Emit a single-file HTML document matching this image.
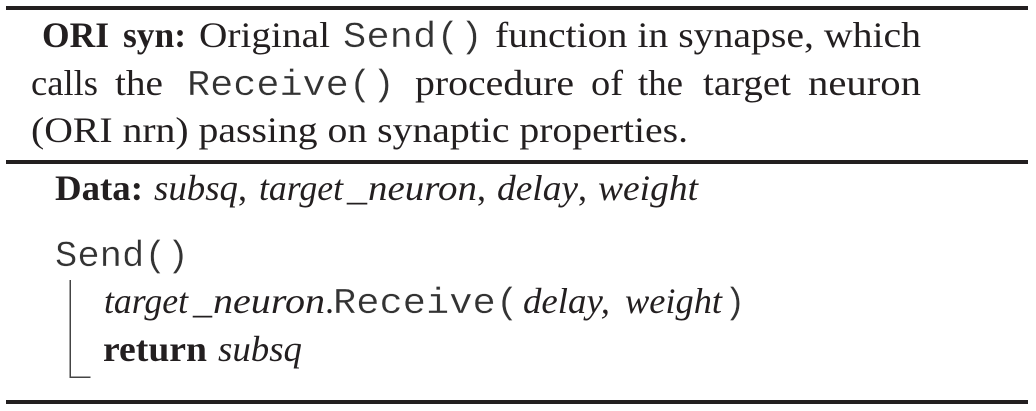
<!DOCTYPE html>
<html><head><meta charset="utf-8"><style>
html,body{margin:0;padding:0;background:#fff;width:1036px;height:411px;overflow:hidden}
svg{display:block}
text{font-family:"Liberation Serif",serif;font-size:36px;fill:#231f20;white-space:pre}
.b{font-weight:bold}
.i{font-style:italic}
.m{font-family:"Liberation Mono",monospace;font-size:36px;fill:#333;stroke:#fff;stroke-width:.3px}
</style></head><body>
<svg width="1036" height="411" viewBox="0 0 1036 411" xmlns="http://www.w3.org/2000/svg">
<rect width="1036" height="411" fill="#fff"/>
<rect x="6" y="6" width="1022" height="4" fill="#231f20"/>
<rect x="6" y="160" width="1022" height="4" fill="#231f20"/>
<rect x="6" y="400" width="1022" height="4" fill="#231f20"/>
<rect x="69.5" y="280" width="1.5" height="98" fill="#444"/>
<rect x="69.5" y="376.5" width="21" height="1.5" fill="#444"/>

<text class="b" x="42" y="47" textLength="67" lengthAdjust="spacingAndGlyphs">ORI</text>
<text class="b" x="123" y="47" textLength="63" lengthAdjust="spacingAndGlyphs">syn:</text>
<text x="199" y="47" textLength="131" lengthAdjust="spacingAndGlyphs">Original</text>
<text class="m" x="343" y="47" textLength="140" lengthAdjust="spacingAndGlyphs">Send()</text>
<text x="495" y="47" textLength="426" lengthAdjust="spacingAndGlyphs">function in synapse, which</text>

<text x="31" y="95" textLength="67" lengthAdjust="spacingAndGlyphs">calls</text>
<text x="115" y="95" textLength="48" lengthAdjust="spacingAndGlyphs">the</text>
<text class="m" x="187" y="95" textLength="208" lengthAdjust="spacingAndGlyphs">Receive()</text>
<text x="415" y="95" textLength="159" lengthAdjust="spacingAndGlyphs">procedure</text>
<text x="591" y="95" textLength="32" lengthAdjust="spacingAndGlyphs">of</text>
<text x="638" y="95" textLength="45" lengthAdjust="spacingAndGlyphs">the</text>
<text x="703" y="95" textLength="88" lengthAdjust="spacingAndGlyphs">target</text>
<text x="808" y="95" textLength="113" lengthAdjust="spacingAndGlyphs">neuron</text>

<text x="31" y="142" textLength="657" lengthAdjust="spacingAndGlyphs">(ORI nrn) passing on synaptic properties.</text>

<text class="b" x="55" y="200" textLength="88" lengthAdjust="spacingAndGlyphs">Data:</text>
<text class="i" x="154" y="200" textLength="84" lengthAdjust="spacingAndGlyphs">subsq</text>
<text x="238" y="200">,</text>
<text class="i" x="259" y="200" textLength="84" lengthAdjust="spacingAndGlyphs">target</text>
<text class="i" x="347" y="200" textLength="20" lengthAdjust="spacingAndGlyphs">_</text>
<text class="i" x="368" y="200" textLength="109" lengthAdjust="spacingAndGlyphs">neuron</text>
<text x="477" y="200">,</text>
<text class="i" x="497" y="200" textLength="81" lengthAdjust="spacingAndGlyphs">delay</text>
<text x="578" y="200">,</text>
<text class="i" x="598" y="200" textLength="100" lengthAdjust="spacingAndGlyphs">weight</text>

<text class="m" x="55" y="266" textLength="134" lengthAdjust="spacingAndGlyphs">Send()</text>

<text class="i" x="104" y="313" textLength="84" lengthAdjust="spacingAndGlyphs">target</text>
<text class="i" x="193" y="313" textLength="19" lengthAdjust="spacingAndGlyphs">_</text>
<text class="i" x="213" y="313" textLength="112" lengthAdjust="spacingAndGlyphs">neuron</text>
<text x="325" y="313">.</text>
<text class="m" x="333" y="313" textLength="186" lengthAdjust="spacingAndGlyphs">Receive(</text>
<text class="i" x="523" y="313" textLength="87" lengthAdjust="spacingAndGlyphs">delay,</text>
<text class="i" x="625" y="313" textLength="97" lengthAdjust="spacingAndGlyphs">weight</text>
<text class="m" x="724" y="313">)</text>

<text class="b" x="103" y="361" textLength="104" lengthAdjust="spacingAndGlyphs">return</text>
<text class="i" x="218" y="361" textLength="84" lengthAdjust="spacingAndGlyphs">subsq</text>
</svg>
</body></html>
